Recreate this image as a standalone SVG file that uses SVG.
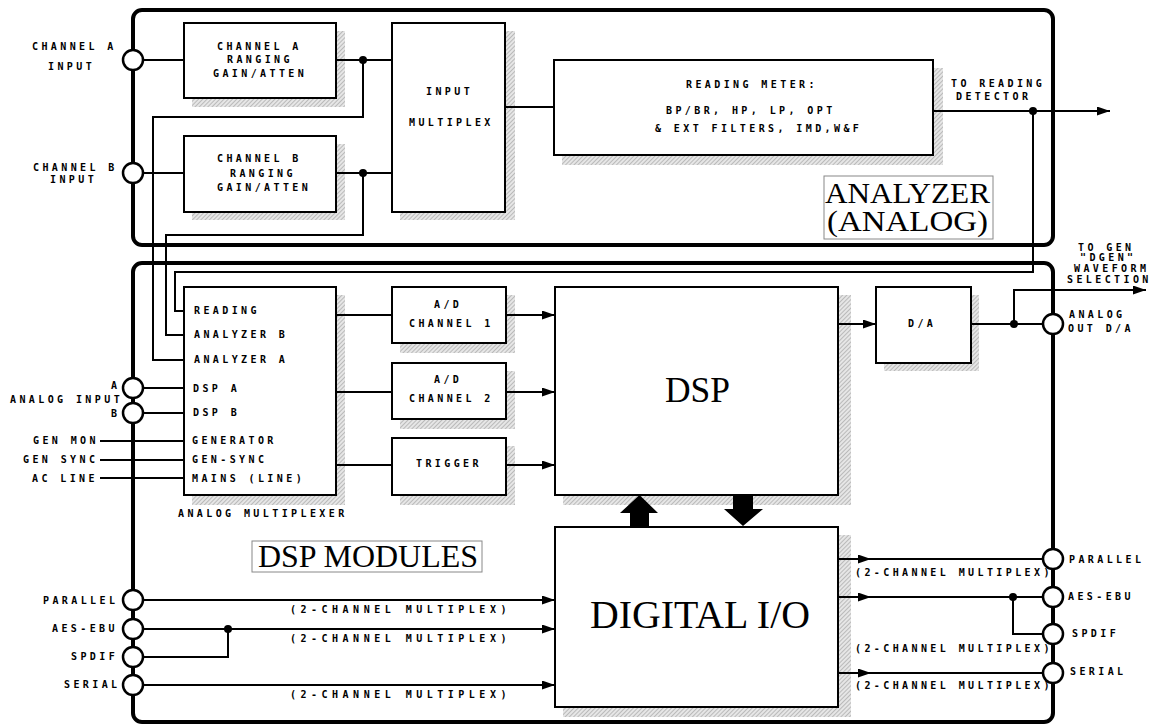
<svg xmlns="http://www.w3.org/2000/svg" width="1153" height="725" viewBox="0 0 1153 725">
<style>
.t{font-family:"DejaVu Sans Mono","Liberation Mono",monospace;font-weight:bold;font-size:10px;letter-spacing:3.4px;fill:#000}
.w{letter-spacing:4.5px}
.s{font-family:"Liberation Serif","Times New Roman",serif;fill:#000}
.box{fill:#fff;stroke:#000;stroke-width:2}
.sh{fill:url(#hatch);stroke:none}
.frame{fill:none;stroke:#000;stroke-width:4}
.ln{fill:none;stroke:#000;stroke-width:2}
.port{fill:#fff;stroke:#000;stroke-width:2.5}
.dot{fill:#000}
.lbl{fill:#fff;stroke:#888;stroke-width:1}
</style>
<defs>
<pattern id="hatch" width="3" height="3" patternUnits="userSpaceOnUse" patternTransform="rotate(45)">
<rect width="3" height="3" fill="#e6e6e6"/>
<line x1="0" y1="0" x2="0" y2="3" stroke="#9c9c9c" stroke-width="1.2"/>
</pattern>
<marker id="ah" markerUnits="userSpaceOnUse" markerWidth="13" markerHeight="10" refX="13" refY="4.5" orient="auto">
<path d="M0,0 L13,4.5 L0,9 z" fill="#000"/>
</marker>
</defs>
<rect width="1153" height="725" fill="#fff"/>

<g id="analyzer-frame">
<rect class="frame" x="133" y="10" width="920" height="235" rx="9"/>
<rect class="lbl" x="824" y="176" width="169" height="63"/>
<text class="s" font-size="29"><tspan x="825" y="203" textLength="165" lengthAdjust="spacingAndGlyphs">ANALYZER</tspan><tspan x="827" y="231" textLength="161" lengthAdjust="spacingAndGlyphs">(ANALOG)</tspan></text>
</g>
<g id="dsp-frame">
<rect class="frame" x="133" y="263" width="920" height="459" rx="9"/>
<rect class="lbl" x="252" y="541" width="230" height="31"/>
<text class="s" x="258" y="567" font-size="31" textLength="220" lengthAdjust="spacingAndGlyphs">DSP  MODULES</text>
</g>

<g id="chA">
<rect class="sh" x="192" y="31" width="153" height="76"/>
<rect class="box" x="184" y="23" width="152" height="75"/>
<text class="t" x="217" y="50">CHANNEL A</text>
<text class="t" x="227" y="63">RANGING</text>
<text class="t" x="213" y="77">GAIN/ATTEN</text>
</g>
<g id="chB">
<rect class="sh" x="192" y="144" width="153" height="76"/>
<rect class="box" x="184" y="136" width="152" height="76"/>
<text class="t" x="217" y="162">CHANNEL B</text>
<text class="t" x="230" y="177">RANGING</text>
<text class="t" x="217" y="191">GAIN/ATTEN</text>
</g>
<g id="inmux">
<rect class="sh" x="400" y="31" width="115" height="189"/>
<rect class="box" x="392" y="23" width="113" height="189"/>
<text class="t" x="426" y="95">INPUT</text>
<text class="t" x="409" y="126">MULTIPLEX</text>
</g>
<g id="meter">
<rect class="sh" x="562" y="68" width="381" height="97"/>
<rect class="box" x="554" y="60" width="379" height="95"/>
<text class="t" x="686" y="88">READING METER:</text>
<text class="t" x="666" y="114">BP/BR, HP, LP, OPT</text>
<text class="t" x="655" y="132">&amp; EXT FILTERS, IMD,W&amp;F</text>
</g>
<g id="amux">
<rect class="sh" x="192" y="295" width="153" height="210"/>
<rect class="box" x="184" y="287" width="152" height="208"/>
<text class="t" x="194" y="314">READING</text>
<text class="t" x="194" y="338">ANALYZER B</text>
<text class="t" x="194" y="363">ANALYZER A</text>
<text class="t" x="193" y="392">DSP A</text>
<text class="t" x="193" y="416">DSP B</text>
<text class="t" x="192" y="444">GENERATOR</text>
<text class="t" x="192" y="463">GEN-SYNC</text>
<text class="t" x="192" y="482">MAINS (LINE)</text>
<text class="t" x="178" y="517">ANALOG MULTIPLEXER</text>
</g>
<g id="ad1">
<rect class="sh" x="400" y="295" width="115" height="58"/>
<rect class="box" x="392" y="287" width="114" height="56"/>
<text class="t" x="434" y="308">A/D</text>
<text class="t" x="409" y="327">CHANNEL 1</text>
</g>
<g id="ad2">
<rect class="sh" x="400" y="371" width="115" height="58"/>
<rect class="box" x="392" y="363" width="114" height="56"/>
<text class="t" x="434" y="383">A/D</text>
<text class="t" x="409" y="402">CHANNEL 2</text>
</g>
<g id="trigger">
<rect class="sh" x="400" y="446" width="115" height="59"/>
<rect class="box" x="392" y="438" width="114" height="57"/>
<text class="t" x="416" y="467">TRIGGER</text>
</g>
<g id="dsp">
<rect class="sh" x="563" y="295" width="288" height="210"/>
<rect class="box" x="555" y="287" width="283" height="208"/>
<text class="s" x="665" y="402" font-size="36" textLength="65" lengthAdjust="spacingAndGlyphs">DSP</text>
</g>
<g id="da">
<rect class="sh" x="884" y="295" width="95" height="76"/>
<rect class="box" x="876" y="287" width="95" height="76"/>
<text class="t" x="908" y="327">D/A</text>
</g>
<g id="dio">
<rect class="sh" x="563" y="535" width="288" height="182"/>
<rect class="box" x="555" y="527" width="283" height="180"/>
<text class="s" x="590" y="628" font-size="40" textLength="220" lengthAdjust="spacingAndGlyphs">DIGITAL  I/O</text>
</g>

<g id="connectors">
<path class="ln" d="M143,60 H184 M336,60 H392"/>
<path class="ln" d="M363,60 V117 H153 V360 H184"/>
<path class="ln" d="M143,173 H184 M336,173 H392"/>
<path class="ln" d="M363,173 V235 H166 V335 H184"/>
<path class="ln" d="M505,107 H554"/>
<path class="ln" d="M933,111 H1110" marker-end="url(#ah)"/>
<path class="ln" d="M1033,111 V272 H175 V311 H184"/>
<path class="ln" d="M143,388 H184 M143,413 H184"/>
<path class="ln" d="M100,441 H184 M100,460 H184 M100,478 H184"/>
<path class="ln" d="M336,315 H392 M336,392 H392 M336,465 H392"/>
<path class="ln" d="M506,315 H555" marker-end="url(#ah)"/>
<path class="ln" d="M506,392 H555" marker-end="url(#ah)"/>
<path class="ln" d="M506,465 H555" marker-end="url(#ah)"/>
<path class="ln" d="M838,324 H876" marker-end="url(#ah)"/>
<path class="ln" d="M971,324 H1043"/>
<path class="ln" d="M1014,324 V290 H1146" marker-end="url(#ah)"/>
<polygon points="630,526 630,513 620,513 639.5,495 658,513 649,513 649,526" fill="#000"/>
<polygon points="733,495 753,495 753,509 763,509 743,526 724,509 733,509" fill="#000"/>
<path class="ln" d="M143,600 H555" marker-end="url(#ah)"/>
<path class="ln" d="M143,629 H555" marker-end="url(#ah)"/>
<path class="ln" d="M143,657 H228 V629"/>
<path class="ln" d="M143,685 H555" marker-end="url(#ah)"/>
<path class="ln" d="M838,559 H1043"/>
<path class="ln" d="M838,559 H871" marker-end="url(#ah)"/>
<path class="ln" d="M838,597 H1043"/>
<path class="ln" d="M838,597 H871" marker-end="url(#ah)"/>
<path class="ln" d="M1013,597 V634 H1043"/>
<path class="ln" d="M838,673 H1043"/>
<path class="ln" d="M838,673 H871" marker-end="url(#ah)"/>
<circle class="dot" cx="363" cy="60" r="4"/>
<circle class="dot" cx="363" cy="173" r="4"/>
<circle class="dot" cx="1033" cy="111" r="4"/>
<circle class="dot" cx="1014" cy="324" r="4"/>
<circle class="dot" cx="228" cy="629" r="4"/>
<circle class="dot" cx="1013" cy="597" r="4"/>
</g>

<g id="ports">
<circle class="port" cx="133" cy="60" r="10"/>
<circle class="port" cx="133" cy="173" r="10"/>
<circle class="port" cx="133" cy="388" r="10"/>
<circle class="port" cx="133" cy="413" r="10"/>
<circle class="port" cx="133" cy="600" r="10"/>
<circle class="port" cx="133" cy="629" r="10"/>
<circle class="port" cx="133" cy="657" r="10"/>
<circle class="port" cx="133" cy="685" r="10"/>
<circle class="port" cx="1053" cy="324" r="10"/>
<circle class="port" cx="1053" cy="559" r="10"/>
<circle class="port" cx="1053" cy="597" r="10"/>
<circle class="port" cx="1053" cy="634" r="10"/>
<circle class="port" cx="1053" cy="673" r="10"/>
</g>

<g id="labels">
<text class="t" x="32" y="50">CHANNEL A</text>
<text class="t" x="48" y="70">INPUT</text>
<text class="t" x="33" y="171">CHANNEL B</text>
<text class="t" x="50" y="183">INPUT</text>
<text class="t" x="951" y="87">TO READING</text>
<text class="t" x="956" y="100">DETECTOR</text>
<text class="t" x="1078" y="251">TO GEN</text>
<text class="t" x="1080" y="261">"DGEN"</text>
<text class="t" x="1074" y="272">WAVEFORM</text>
<text class="t" x="1067" y="283">SELECTION</text>
<text class="t" x="1069" y="318">ANALOG</text>
<text class="t" x="1068" y="332">OUT D/A</text>
<text class="t" x="111" y="389">A</text>
<text class="t" x="10" y="403">ANALOG INPUT</text>
<text class="t" x="111" y="417">B</text>
<text class="t" x="33" y="444">GEN MON</text>
<text class="t" x="23" y="463">GEN SYNC</text>
<text class="t" x="32" y="482">AC LINE</text>
<text class="t" x="43" y="604">PARALLEL</text>
<text class="t" x="52" y="632">AES-EBU</text>
<text class="t" x="71" y="660">SPDIF</text>
<text class="t" x="64" y="688">SERIAL</text>
<text class="t w" x="290" y="613">(2-CHANNEL MULTIPLEX)</text>
<text class="t w" x="290" y="642">(2-CHANNEL MULTIPLEX)</text>
<text class="t w" x="290" y="698">(2-CHANNEL MULTIPLEX)</text>
<text class="t" x="855" y="576">(2-CHANNEL MULTIPLEX)</text>
<text class="t" x="855" y="652">(2-CHANNEL MULTIPLEX)</text>
<text class="t" x="855" y="689">(2-CHANNEL MULTIPLEX)</text>
<text class="t" x="1069" y="563">PARALLEL</text>
<text class="t" x="1068" y="600">AES-EBU</text>
<text class="t" x="1072" y="637">SPDIF</text>
<text class="t" x="1070" y="675">SERIAL</text>
</g>
</svg>
